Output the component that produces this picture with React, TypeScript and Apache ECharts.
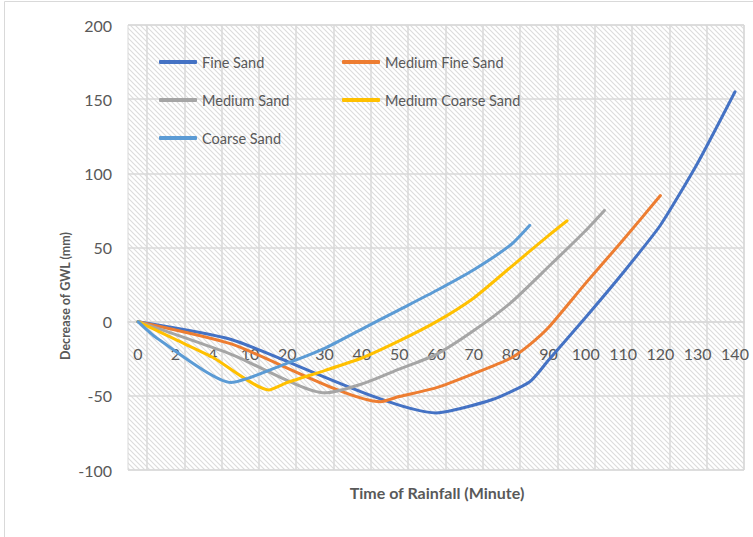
import React, { useEffect, useRef } from "react";
import * as echarts from "echarts";

// Category tick labels (Time of Rainfall, minutes), evenly spaced slots 0..16
const xTickLabels = ["0", "2", "4", "10", "20", "30", "40", "50", "60", "70", "80", "90", "100", "110", "120", "130", "140"];
const seriesNames = ["Fine Sand", "Medium Fine Sand", "Medium Sand", "Medium Coarse Sand", "Coarse Sand"];
const seriesColors = ["#4472C4", "#ED7D31", "#A5A5A5", "#FFC000", "#5B9BD5"];

// [slot position, decrease of GWL (mm)]
const fineSand = [[0, 0], [2.5, -12], [8, -61.5], [9.5, -52.5], [10.5, -40.5], [11, -26], [12, 3], [13, 33], [14, 65], [15, 107], [16, 155]];
const mediumFineSand = [[0, 0], [2.5, -15], [6.5, -54], [7, -50.5], [8, -44.5], [9, -35], [10, -24.5], [10.5, -15.5], [11, -4], [12, 26], [13, 55], [14, 85]];
const mediumSand = [[0, 0], [2.5, -22], [5, -48], [6, -42], [7, -32], [8, -22], [9, -6], [10, 13], [11, 37], [12, 61.5], [12.5, 75]];
const mediumCoarseSand = [[0, 0], [1, -12], [2, -24], [3.5, -46], [4, -41], [5, -33], [6, -24.5], [7, -13], [8, 0], [9, 16], [10, 37], [11, 58], [11.5, 68]];
const coarseSand = [[0, 0], [0.5, -11], [2.5, -41], [4, -28], [5, -18], [6, -5], [7, 8], [8, 21], [9, 35], [10, 52], [10.5, 65]];

const allSeries = [fineSand, mediumFineSand, mediumSand, mediumCoarseSand, coarseSand];

const yMin = -100;
const yMax = 200;
const yStep = 50;

const FONT = "Lato, 'Liberation Sans', sans-serif";
const TEXT = "#595959";
const GRID = "#d9d9d9";

export default function App() {
  const ref = useRef<HTMLDivElement>(null);

  useEffect(() => {
    if (!ref.current) return;
    const chart = echarts.init(ref.current, null, { renderer: "svg" });

    const xMin = -0.268;
    const xMax = 16.241;
    const labelValues = xTickLabels.map((_, i) => i);
    const gridValues = xTickLabels.map((_, i) => i + 0.241);

    const hatchSvg =
      '<svg xmlns="http://www.w3.org/2000/svg" width="5" height="5">' +
      '<rect width="5" height="5" fill="#ffffff"/>' +
      '<path d="M0 0L5 5M-1 4L1 6M4 -1L6 1" stroke="#dcdcdc" stroke-width="1.1"/></svg>';
    const hatchUrl = "data:image/svg+xml;charset=utf-8," + encodeURIComponent(hatchSvg);

    const legendCommon = {
      orient: "vertical",
      top: 52,
      padding: 0,
      itemWidth: 38,
      itemHeight: 4,
      itemGap: 18,
      icon: "roundRect",
      textStyle: { fontFamily: FONT, fontSize: 14.5, lineHeight: 20, color: TEXT },
    };

    chart.setOption({
      animation: false,
      grid: {
        left: 128,
        right: 9,
        top: 25,
        bottom: 67,
        show: true,
        borderColor: GRID,
        borderWidth: 1,
        backgroundColor: { image: hatchUrl, repeat: "repeat", imageWidth: 5, imageHeight: 5 },
      },
      legend: [
        { ...legendCommon, left: 159, data: [seriesNames[0], seriesNames[2], seriesNames[4]] },
        { ...legendCommon, left: 342, data: [seriesNames[1], seriesNames[3]] },
      ],
      xAxis: {
        type: "value",
        min: xMin,
        max: xMax,
        position: "bottom",
        offset: -148,
        axisLine: { show: true, onZero: false, lineStyle: { color: GRID, width: 1.5 } },
        axisTick: { show: false, customValues: gridValues },
        splitLine: { show: true, lineStyle: { color: GRID, width: 1.5 } },
        axisLabel: {
          customValues: labelValues,
          formatter: (v: number) => xTickLabels[Math.round(v)] ?? "",
          margin: 23,
          fontFamily: FONT,
          fontSize: 16,
          color: TEXT,
        },
      },
      yAxis: {
        type: "value",
        min: yMin,
        max: yMax,
        interval: yStep,
        axisLine: { show: false },
        axisTick: { show: false },
        splitLine: { show: true, lineStyle: { color: GRID, width: 1.5 } },
        axisLabel: { margin: 16, fontFamily: FONT, fontSize: 16, color: TEXT },
      },
      series: allSeries.map((d, i) => ({
        name: seriesNames[i],
        type: "line",
        data: d,
        smooth: 0.2,
        symbol: "none",
        showSymbol: false,
        color: seriesColors[i],
        lineStyle: { width: 3, color: seriesColors[i], cap: "round", join: "round" },
        emphasis: { disabled: true },
      })),
      graphic: [
        {
          type: "rect",
          silent: true,
          z: -10,
          shape: { x: 4.5, y: 1.5, width: 800, height: 600 },
          style: { fill: "none", stroke: GRID, lineWidth: 1 },
        },
        {
          type: "text",
          x: 65,
          y: 296,
          rotation: Math.PI / 2,
          style: {
            text: "Decrease of GWL (mm)",
            fill: TEXT,
            font: "bold 12.5px " + FONT,
            align: "center",
            verticalAlign: "middle",
            textAlign: "center",
            textVerticalAlign: "middle",
          },
        },
        {
          type: "text",
          x: 437,
          y: 492,
          style: {
            text: "Time of Rainfall (Minute)",
            fill: TEXT,
            font: "bold 16px " + FONT,
            align: "center",
            verticalAlign: "middle",
            textAlign: "center",
            textVerticalAlign: "middle",
          },
        },
      ],
    });

    return () => chart.dispose();
  }, []);

  return (
    <div
      ref={ref}
      style={{ position: "fixed", left: 0, top: 0, width: 753, height: 537, background: "#ffffff" }}
    />
  );
}
